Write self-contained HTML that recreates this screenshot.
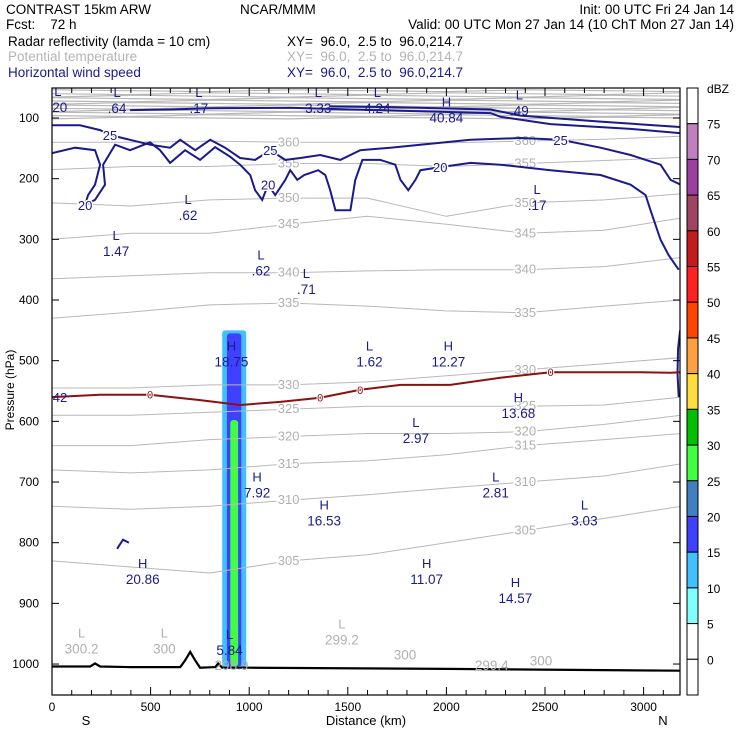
<!DOCTYPE html>
<html><head><meta charset="utf-8">
<style>
body{margin:0;background:#fff;width:740px;height:740px;overflow:hidden;font-family:"Liberation Sans",sans-serif}
svg{position:absolute;left:0;top:0}
text{font-family:"Liberation Sans",sans-serif}
#hdr text{white-space:pre}
</style></head><body>
<svg id="chart" width="740" height="740" xmlns="http://www.w3.org/2000/svg">
<g id="hdr" font-size="13.5">
<text x="6" y="14" fill="#000">CONTRAST 15km ARW</text>
<text x="240" y="14" fill="#000">NCAR/MMM</text>
<text x="734" y="14" fill="#000" text-anchor="end">Init: 00 UTC Fri 24 Jan 14</text>
<text x="6" y="29" fill="#000">Fcst:    72 h</text>
<text x="734" y="29" fill="#000" text-anchor="end">Valid: 00 UTC Mon 27 Jan 14 (10 ChT Mon 27 Jan 14)</text>
<text x="8" y="46" fill="#000">Radar reflectivity (lamda = 10 cm)</text>
<text x="287" y="46" fill="#000">XY=  96.0,  2.5 to  96.0,214.7</text>
<text x="8" y="61" fill="#b4b4b4">Potential temperature</text>
<text x="287" y="61" fill="#b4b4b4">XY=  96.0,  2.5 to  96.0,214.7</text>
<text x="8" y="77" fill="#1a1a8c">Horizontal wind speed</text>
<text x="287" y="77" fill="#1a1a8c">XY=  96.0,  2.5 to  96.0,214.7</text>
</g>
<g id="plot"></g>
</svg>
<script>
// ---- data ----
const pressureTicks=[100,200,300,400,500,600,700,800,900,1000];
const distanceTicks=[0,500,1000,1500,2000,2500,3000];
const dbzLabels=['75','70','65','60','55','50','45','40','35','30','25','20','15','10','5','0'];
const dbzColors=['#ffffff','#c080c0','#9c40a0','#a04464','#c41c1c','#ff2020','#ff4400','#ffa040','#ffdc40','#00c000','#40ff40','#4080c0','#4040ff','#40c0ff','#80ffff','#ffffff','#ffffff'];
const isoKm=[0,400,800,1200,1600,2000,2400,2800,3190];
const thetaLevels=[305,310,315,320,325,330,335,340,345,350,355,360];
const th305=[830,840,850,830,820,800,780,760,740];
const th310=[740,745,740,730,721,710,700,690,670];
const th315=[680,685,680,670,665,655,640,630,620];
const th320=[640,640,630,625,620,620,617,605,590];
const th325=[590,590,585,580,575,575,575,573,560];
const th330=[545,545,540,540,535,525,515,505,495];
const th335=[430,420,408,405,410,418,421,410,400];
const th340=[365,360,355,355,352,350,350,345,330];
const th345=[300,290,290,275,262,275,290,285,265];
const th350=[240,245,235,232,232,262,240,235,225];
const th355=[185,180,180,175,175,180,175,170,165];
const th360=[140,140,138,140,140,141,138,135,130];
const thUpper=[55,60,64,68,72,76,80,84,88,92,96,100];
const w20=[[0,158],[117,149],[218,153],[244,177],[218,210],[183,227],[168,243],[218,235],[269,210],[259,177],[320,144],[396,153],[497,140],[548,153],[599,174],[675,153],[751,169],[827,148],[904,164],[954,177],[1005,194],[1030,219],[1066,235],[1096,210],[1132,227],[1183,202],[1208,186],[1244,202],[1279,194],[1350,186],[1386,194],[1411,219],[1437,252],[1513,252],[1538,202],[1574,169],[1665,169],[1741,177],[1767,202],[1807,219],[1843,202],[1868,186],[1969,181],[2122,174],[2274,177],[2528,186],[2782,194],[2934,210],[3010,227],[3035,252],[3086,301],[3127,326],[3178,350]];
const w25=[[0,112],[142,112],[244,120],[294,128],[396,136],[497,144],[599,149],[650,136],[726,153],[802,136],[878,149],[954,166],[1030,169],[1107,153],[1183,169],[1259,166],[1360,161],[1462,169],[1563,153],[1716,149],[1868,144],[2122,136],[2376,133],[2579,136],[2782,149],[2934,161],[3086,177],[3137,202],[3188,210]];
const w30=[[396,87],[599,86],[802,84],[1208,83],[1513,86],[1767,88],[2224,92],[2274,98],[2528,110],[2934,118],[3188,125]];
const w35=[[1411,81],[1716,82],[2224,86],[2376,96],[2782,106],[3188,115]];
const wRight=[[3185,450],[3175,480],[3172,520],[3178,560]];
const wBlob=[[330,810],[360,795],[390,800]];
const freezeKm=[0,244,497,751,954,1157,1360,1563,1767,2020,2274,2528,2782,2985,3137,3190];
const freezeP=[560,556,556,565,573,568,561,548,540,540,528,519,519,519,520,519];
const terrainKm=[0,193,218,244,396,650,675,701,726,751,828,843,863,1000,2000,2800,3190];
const terrainP=[1004,1004,999,1004,1005,1005,994,980,994,1006,1005,999,1006,1006,1008,1010,1011];
const reflect=[{k0:863,k1:985,p0:450,p1:1006,dbz:10},{k0:887,k1:960,p0:455,p1:1004,dbz:15},{k0:904,k1:944,p0:598,p1:1004,dbz:25}];
const extrema=[['L','.20',30,70],['L','.64',330,72],['L','.17',745,72],['L','3.33',1350,72],['L','4.24',1650,72],['H','40.84',2000,88],['L','.49',2370,76],['L','.62',690,248],['L','1.47',325,308],['L','.62',1060,340],['L','.71',1290,370],['L','.17',2460,232],['H','18.75',910,490],['L','1.62',1610,490],['H','12.27',2010,490],['H','13.68',2365,575],['L','2.97',1845,616],['L','2.81',2250,706],['L','3.03',2700,752],['H','7.92',1040,706],['H','16.53',1380,752],['H','20.86',460,848],['H','11.07',1900,848],['H','14.57',2350,880],['L','5.84',900,965]];
const thetaExtrema=[['L','300.2',150,963],['L','300',570,963],['L','299.2',1470,948],['','300',1790,973],['','299.4',2230,990],['','300',2480,983],['','298.9',910,990]];

// ---- axes ----
const X0=52,X1=680,Y0=88,Y1=695;
const xs=k=>X0+k*0.1972;
const ys=p=>118+(p-100)*0.6067;
const NS='http://www.w3.org/2000/svg';
const plot=document.getElementById('plot');
function el(tag,attrs,parent){const e=document.createElementNS(NS,tag);for(const a in attrs)e.setAttribute(a,attrs[a]);(parent||plot).appendChild(e);return e;}
function pts(ks,ps){return ks.map((k,i)=>xs(k).toFixed(1)+','+ys(ps[i]).toFixed(1)).join(' ');}
function ptsPairs(arr){return arr.map(d=>xs(d[0]).toFixed(1)+','+ys(d[1]).toFixed(1)).join(' ');}

const clip=el('clipPath',{id:'pc'});el('rect',{x:X0,y:Y0,width:X1-X0,height:Y1-Y0},clip);
const g=el('g',{'clip-path':'url(#pc)'});



reflect.forEach(r=>{
  const idx=dbzLabels.length-1-Math.round(r.dbz/5);
  const c=el('rect',{x:xs(r.k0),y:ys(r.p0),width:xs(r.k1)-xs(r.k0),height:ys(r.p1)-ys(r.p0),fill:dbzColors[idx],rx:3},g);
  
  
});

const thArrays=[th305,th310,th315,th320,th325,th330,th335,th340,th345,th350,th355,th360];
thArrays.forEach((a,i)=>{
  const l=el('polyline',{points:pts(isoKm,a),fill:'none',stroke:'#b8b8b8','stroke-width':1},g);
  
  
  [Math.floor(isoKm.length/3),Math.floor(2*isoKm.length/3)].forEach(j=>{
    const t=el('text',{x:xs(isoKm[j]),y:ys(a[j])+4,fill:'#b0b0b0','font-size':13,'text-anchor':'middle',stroke:'#fff','stroke-width':3,'paint-order':'stroke'},g);
    t.textContent=thetaLevels[i];
    
    
  });
});
thUpper.forEach((p,i)=>{
  const l=el('polyline',{points:pts(isoKm,isoKm.map((k,j)=>p+((i+j)%3-1)*1.5)),fill:'none',stroke:'#b8b8b8','stroke-width':1.2},g);
  
  
});

[[w20,'20'],[w25,'25'],[w30,''],[w35,''],[wRight,''],[wBlob,'']].forEach(([a,lab])=>{
  const l=el('polyline',{points:ptsPairs(a),fill:'none',stroke:'#1a1a8c','stroke-width':2},g);
  
  
  if(lab){[0.12,0.45,0.8].forEach(f=>{const d=a[Math.floor(a.length*f)];
    const t=el('text',{x:xs(d[0]),y:ys(d[1])+5,fill:'#1a1a8c','font-size':13,'text-anchor':'middle',stroke:'#fff','stroke-width':3,'paint-order':'stroke'},g);
    t.textContent=lab;
    
    });}
});

const fz=el('polyline',{points:pts(freezeKm,freezeP),fill:'none',stroke:'#8c1010','stroke-width':2},g);


[2,6,7,11].forEach(j=>{const t=el('text',{x:xs(freezeKm[j]),y:ys(freezeP[j])+4,fill:'#8c1010','font-size':11,'text-anchor':'middle',stroke:'#fff','stroke-width':2,'paint-order':'stroke'},g);
  t.textContent='0';
  
  });

const tr=el('polyline',{points:pts(terrainKm,terrainP),fill:'none',stroke:'#000','stroke-width':2.2},g);



extrema.forEach(e=>{
  const t1=el('text',{x:xs(e[2]),y:ys(e[3])-4,fill:'#1a1a8c','font-size':13,'text-anchor':'middle'},g);
  t1.textContent=e[0];
  
  
  const t2=el('text',{x:xs(e[2]),y:ys(e[3])+12,fill:'#1a1a8c','font-size':13.5,'text-anchor':'middle'},g);
  t2.textContent=e[1];
  
  
});
thetaExtrema.forEach(e=>{
  if(e[0]){const t1=el('text',{x:xs(e[2]),y:ys(e[3])-4,fill:'#b0b0b0','font-size':13,'text-anchor':'middle'},g);
  t1.textContent=e[0];
  
  }
  const t2=el('text',{x:xs(e[2]),y:ys(e[3])+12,fill:'#b0b0b0','font-size':13.5,'text-anchor':'middle'},g);
  t2.textContent=e[1];
  
  
});
const l42=el('text',{x:60,y:402,fill:'#1a1a8c','font-size':13,'text-anchor':'middle'},g);
l42.textContent='42';



const fr=el('rect',{x:X0,y:Y0,width:X1-X0,height:Y1-Y0,fill:'none',stroke:'#000','stroke-width':1.2});



pressureTicks.forEach(p=>{
  const y=ys(p);
  el('line',{x1:X0,x2:X0+7,y1:y,y2:y,stroke:'#000'});
  el('line',{x1:X1,x2:X1-7,y1:y,y2:y,stroke:'#000'});
  const t=el('text',{x:39,y:y+4,'font-size':12,'text-anchor':'end',fill:'#000'});
  t.textContent=p;
  
  
});
for(let k=0;k<=3100;k+=100){const x=xs(k);
  el('line',{x1:x,x2:x,y1:Y0,y2:Y0+(k%500?5:8),stroke:'#000'});
  el('line',{x1:x,x2:x,y1:Y1,y2:Y1-(k%500?5:8),stroke:'#000'});}
distanceTicks.forEach(k=>{
  const t=el('text',{x:xs(k),y:711,'font-size':12,'text-anchor':'middle',fill:'#000'});
  t.textContent=k;
  
  
});
const xt=el('text',{x:366,y:725,'font-size':13,'text-anchor':'middle'});xt.textContent='Distance (km)';


const sN=el('text',{x:86,y:725,'font-size':13,'text-anchor':'middle'});sN.textContent='S';


const nN=el('text',{x:663,y:725,'font-size':13,'text-anchor':'middle'});nN.textContent='N';


const yt=el('text',{x:14,y:390,'font-size':12,'text-anchor':'middle',transform:'rotate(-90 14 390)'});yt.textContent='Pressure (hPa)';



const cb0=88,cb1=695,segH=(cb1-cb0)/dbzColors.length;
dbzColors.forEach((c,i)=>{
  const r=el('rect',{x:687,y:cb0+i*segH,width:11,height:segH,fill:c,stroke:'#000','stroke-width':1});
  
  
});
dbzLabels.forEach((l,i)=>{
  const t=el('text',{x:707,y:cb0+(i+1)*segH+5,'font-size':12,fill:'#000'});
  t.textContent=l;
  
  
});
const du=el('text',{x:707,y:93,'font-size':12});du.textContent='dBZ';


</script>
</body></html>
